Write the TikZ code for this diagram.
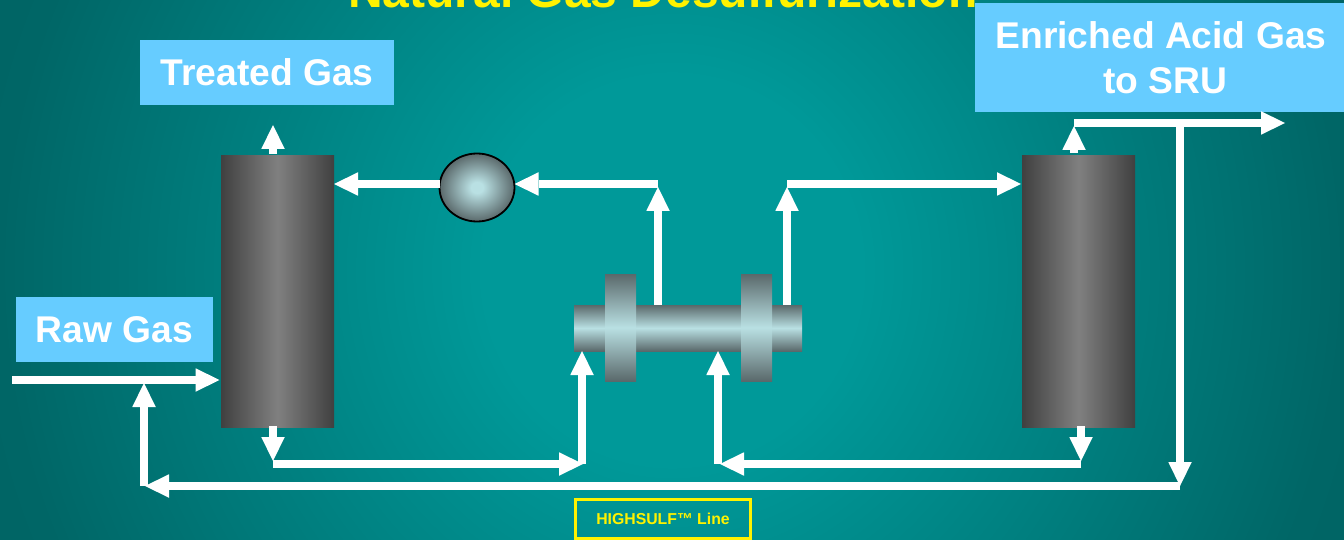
\documentclass[tikz,border=0pt]{standalone}
\usepackage{fontspec}
\setmainfont{Liberation Sans}
\usetikzlibrary{arrows.meta,shapes.geometric}
\definecolor{labelblue}{HTML}{66CCFF}
\definecolor{tealmid}{HTML}{009999}
\definecolor{tealedge}{HTML}{006666}
\definecolor{tealcorner}{HTML}{005E5E}
\definecolor{steeldark}{HTML}{5A696B}
\definecolor{steellight}{HTML}{B9E0E3}
\definecolor{towerdark}{HTML}{404040}
\definecolor{towerlight}{HTML}{808080}
\pgfdeclareradialshading{bgrad}{\pgfpoint{0bp}{0bp}}{%
  color(0bp)=(tealmid); color(7bp)=(tealmid); color(25bp)=(tealedge); color(36bp)=(tealcorner); color(50bp)=(tealcorner)}
\pgfdeclareradialshading{ballgrad}{\pgfpoint{0bp}{0bp}}{%
  color(0bp)=(steellight); color(4bp)=(steellight); color(25bp)=(steeldark); color(50bp)=(steeldark)}
\tikzset{
  x=1pt,y=-1pt,
  boxlabel/.style={fill=labelblue,text=white,inner sep=0pt,outer sep=0pt,align=center,
    font=\fontsize{37.2}{45}\selectfont\bfseries},
  tower/.style={minimum width=113pt,minimum height=272pt,inner sep=0pt,outer sep=0pt,
    left color=towerdark,right color=towerdark,middle color=towerlight},
  pipepart/.style={inner sep=0pt,outer sep=0pt,
    top color=steeldark,bottom color=steeldark,middle color=steellight},
  flow/.style={draw=white,line width=8pt,-{Triangle[length=24pt,width=23.5pt,line width=0pt,fill=white]}}
}
\begin{document}
\begin{tikzpicture}
\useasboundingbox (0,0) rectangle (1344,540);
\begin{scope}
\clip (0,0) rectangle (1344,540);
\shade[shading=bgrad] (0,-420) rectangle (1344,960);
\end{scope}

\node[anchor=base west,inner sep=0pt,text=yellow,font=\fontsize{48}{56}\selectfont\bfseries] (title) at (348,8) {Natural Gas Desulfurization};

\node[boxlabel,minimum width=254pt,minimum height=65pt] (treated) at (267,72.5) {Treated Gas};
\node[boxlabel,minimum width=197pt,minimum height=65pt] (raw) at (114.5,329.5) {Raw Gas};
\node[boxlabel,anchor=north west,minimum width=372pt,minimum height=109pt] (enriched) at (975,3) {};
\node[anchor=center,inner sep=0pt,text=white,align=center,font=\fontsize{37.2}{45}\selectfont\bfseries] (enrichedtext) at (1161,58) {Enriched Acid Gas\\\hspace*{9pt}to SRU};

\node[tower] (t1) at (277.5,291.5) {};
\node[tower] (t2) at (1078.5,291.5) {};

\node[pipepart,minimum width=228pt,minimum height=46pt] (shaft) at (688,328) {};
\node[pipepart,minimum width=31pt,minimum height=107pt] (flangeL) at (620.5,327.5) {};
\node[pipepart,minimum width=31pt,minimum height=107pt] (flangeR) at (756.5,327.5) {};

% named connection points
\coordinate (rawstart) at (12,380);
\coordinate (rawin) at (219.5,380);
\coordinate (recA) at (1180,486);
\coordinate (recB) at (145,486);
\coordinate (recC) at (144,486);
\coordinate (recD) at (144,383);
\coordinate (t1top) at (273,154);
\coordinate (t1out) at (273,125);
\coordinate (t1bot) at (273,426);
\coordinate (t1tip) at (273,461);
\coordinate (t1low) at (273,464);
\coordinate (lowL) at (583,464);
\coordinate (lowLc) at (582,464);
\coordinate (pumpinL) at (582,351);
\coordinate (t2bot) at (1081,426);
\coordinate (t2tip) at (1081,461);
\coordinate (t2low) at (1081,464);
\coordinate (lowR) at (720,464);
\coordinate (lowRc) at (718,464);
\coordinate (pumpinR) at (718,351);
\coordinate (t2top) at (1074,153);
\coordinate (t2out) at (1074,126);
\coordinate (sruA) at (1074,123);
\coordinate (sruB) at (1285,123);
\coordinate (splitA) at (1180,123);
\coordinate (pumpoutL) at (658,305);
\coordinate (upL) at (658,187);
\coordinate (cornerL) at (658,184);
\coordinate (pumpoutR) at (787,305);
\coordinate (upR) at (787,187);
\coordinate (cornerR) at (787,184);
\coordinate (t2in) at (1021,184);
\coordinate (t1in) at (334,184);

\node[draw=black,line width=1.8pt,ellipse,shading=ballgrad,inner sep=0pt,minimum width=75pt,minimum height=68pt,outer sep=0pt] (ball) at (477,187.5) {};

\draw[flow] (rawstart) -- (rawin);
\draw[flow] (recC) -- (recD);
\draw[flow] (recA) -- (recB);
\draw[flow] (t1top) -- (t1out);
\draw[flow] (t1bot) -- (t1tip);
\draw[flow] (t1low) -- (lowL);
\draw[flow] (lowLc) -- (pumpinL);
\draw[flow] (t2low) -- (lowR);
\draw[flow] (lowRc) -- (pumpinR);
\draw[flow] (t2bot) -- (t2tip);
\draw[flow] (t2top) -- (t2out);
\draw[flow] (sruA) -- (sruB);
\draw[flow] (splitA) -- (recA);
\draw[flow] (pumpoutL) -- (upL);
\draw[flow] (cornerL) -- (cornerL -| ball.east);
\draw[flow] (ball.west |- t1in) -- (t1in);
\draw[flow] (pumpoutR) -- (upR);
\draw[flow] (cornerR) -- (t2in);

\node[draw=yellow,line width=3pt,minimum width=175pt,minimum height=39pt,inner sep=0pt,text=yellow,font=\fontsize{15.8}{18}\selectfont\bfseries] (line) at (663,518.5) {HIGHSULF™ Line};
\end{tikzpicture}
\end{document}
